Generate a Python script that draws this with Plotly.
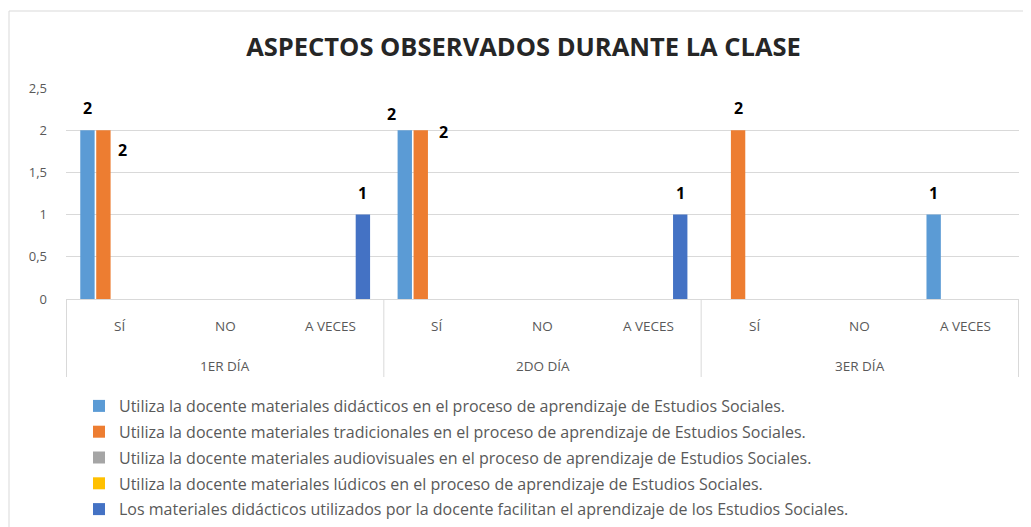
import plotly.graph_objects as go

# ---- data ----
days = ["1ER DÍA", "1ER DÍA", "1ER DÍA", "2DO DÍA", "2DO DÍA", "2DO DÍA", "3ER DÍA", "3ER DÍA", "3ER DÍA"]
answers = ["SÍ", "NO", "A VECES"] * 3
day_labels = ["1ER DÍA", "2DO DÍA", "3ER DÍA"]

series_names = [
    "Utiliza la docente materiales didácticos en el proceso de aprendizaje de Estudios Sociales.",
    "Utiliza la docente materiales tradicionales en el proceso de aprendizaje de Estudios Sociales.",
    "Utiliza la docente materiales audiovisuales en el proceso de aprendizaje de Estudios Sociales.",
    "Utiliza la docente materiales lúdicos en el proceso de aprendizaje de Estudios Sociales.",
    "Los materiales didácticos utilizados por la docente facilitan el aprendizaje de los Estudios Sociales.",
]
didacticos = [2, None, None, 2, None, None, None, None, 1]
tradicionales = [2, None, None, 2, None, None, 2, None, None]
audiovisuales = [None] * 9
ludicos = [None] * 9
facilitan = [None, None, 1, None, None, 1, None, None, None]
series_values = [didacticos, tradicionales, audiovisuales, ludicos, facilitan]

y_ticks = [0, 0.5, 1, 1.5, 2, 2.5]

# ---- style ----
FONT = "Open Sans"
colors = ["#5B9BD5", "#ED7D31", "#A5A5A5", "#FFC000", "#4472C4"]
GRID = "#D9D9D9"
TXT = "#595959"
BARGAP = 0.245
BARGROUPGAP = 0.1
# pixel nudges for data labels (Excel placement): (series, category) -> (dx, dy above bar top)
label_nudge = {(1, 0): (19, -20), (0, 3): (-13, 16), (1, 3): (23, -2)}
DEFAULT_DY = 22
M_L, M_R, M_T, M_B = 58, 20, 80, 236
PLOT_W = 1031 - M_L - M_R
PLOT_H = 527 - M_T - M_B

fig = go.Figure()
for k, (name, vals) in enumerate(zip(series_names, series_values)):
    fig.add_trace(go.Bar(
        x=[days, answers], y=vals, name=name,
        marker=dict(color=colors[k], line=dict(width=0)),
        legendgroup=f"g{k}",
    ))

n_series = len(series_values)
slot = (1 - BARGAP) / n_series
for k, vals in enumerate(series_values):
    for i, v in enumerate(vals):
        if v is None:
            continue
        dx, dy = label_nudge.get((k, i), (0, DEFAULT_DY))
        fig.add_annotation(
            x=i + (k - (n_series - 1) / 2) * slot, y=v, xref="x", yref="y",
            text=str(v), showarrow=False, xshift=dx, yshift=dy,
            xanchor="center", yanchor="middle",
            font=dict(family=FONT, size=16, color="#000000", weight="bold"),
        )

# two-level category axis labels (Excel style)
for i, a in enumerate(answers):
    fig.add_annotation(x=i, y=0, xref="x", yref="paper", yshift=-27,
                       text=a, showarrow=False, xanchor="center", yanchor="middle",
                       font=dict(family=FONT, size=13.5, color=TXT))
group_starts = [days.index(d) for d in day_labels]
group_ends = [len(days) - 1 - days[::-1].index(d) for d in day_labels]
for d, s, e in zip(day_labels, group_starts, group_ends):
    fig.add_annotation(x=(s + e) / 2, y=0, xref="x", yref="paper", yshift=-67,
                       text=d, showarrow=False, xanchor="center", yanchor="middle",
                       font=dict(family=FONT, size=13.5, color=TXT))
divider_pos = [s - 0.5 for s in group_starts] + [group_ends[-1] + 0.5]
for xd in divider_pos:
    fig.add_shape(type="line", xref="x", yref="paper", x0=xd, x1=xd,
                  y0=0, y1=-78 / PLOT_H, line=dict(color=GRID, width=1))

# chart border
fig.add_shape(type="rect", xref="paper", yref="paper",
              x0=-57 / PLOT_W, x1=1.05, y0=-1.2, y1=288 / PLOT_H,
              line=dict(color=GRID, width=1), fillcolor="rgba(0,0,0,0)", layer="below")

fig.update_layout(
    width=1031, height=527,
    margin=dict(l=M_L, r=M_R, t=M_T, b=M_B, autoexpand=False),
    paper_bgcolor="white", plot_bgcolor="white",
    separators=", ",
    barmode="group", bargap=BARGAP, bargroupgap=BARGROUPGAP,
    title=dict(text="<b>ASPECTOS OBSERVADOS DURANTE LA CLASE</b>",
               x=0.5, xanchor="center", y=1 - 39 / 527, yanchor="middle",
               font=dict(family=FONT, size=25.5, color="#262626")),
    font=dict(family=FONT, color=TXT, size=12),
    showlegend=True,
    legend=dict(orientation="v", x=13 / PLOT_W, xanchor="left", y=-90 / PLOT_H, yanchor="top",
                traceorder="grouped", tracegroupgap=2,
                font=dict(family=FONT, size=16, color=TXT),
                bgcolor="rgba(0,0,0,0)"),
    xaxis=dict(type="multicategory", showline=True, linecolor=GRID, linewidth=1,
               showgrid=False, ticks="", showticklabels=False, showdividers=False),
    yaxis=dict(range=[0, 2.5], tickvals=y_ticks, showgrid=True, gridcolor=GRID,
               zeroline=False, showline=False, ticks="", ticklabelstandoff=18,
               tickfont=dict(family=FONT, size=13, color=TXT)),
)

fig.write_html("out.html")
